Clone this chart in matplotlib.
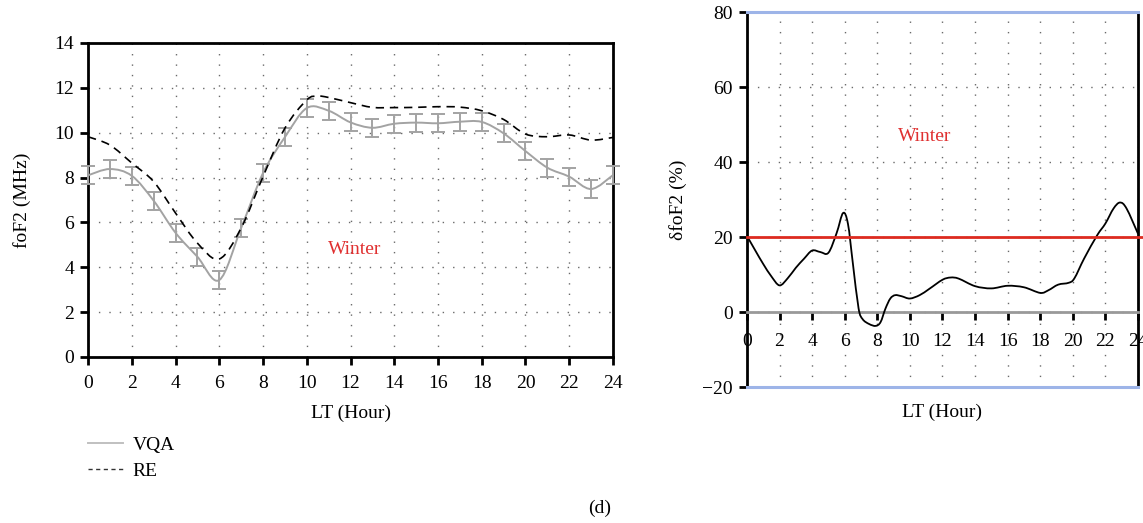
import numpy as np
import matplotlib
matplotlib.use("Agg")
import matplotlib.pyplot as plt
from matplotlib.path import Path
from matplotlib.patches import PathPatch
from matplotlib.lines import Line2D

plt.rcParams['font.family'] = ['Liberation Serif', 'DejaVu Serif']
plt.rcParams['axes.unicode_minus'] = True

# foF2 (MHz), hourly, winter
hours = list(range(25))
vqa = [8.1, 8.38, 8.08, 6.97, 5.54, 4.47, 3.43, 5.75, 8.2, 9.8, 11.1, 10.98,
       10.46, 10.22, 10.4, 10.45, 10.42, 10.49, 10.48, 9.97, 9.18, 8.44, 8.04, 7.49, 8.11]
vqa_err = [0.4] * 25
re_hours = [0, 1, 2, 3, 4, 5, 6, 7, 8, 9, 10, 10.5, 11, 12, 13, 14, 15, 16, 17,
            18, 19, 20, 21, 22, 23, 24]
re_vals = [9.82, 9.45, 8.65, 7.82, 6.42, 5.08, 4.37, 5.75, 8.04, 10.2, 11.46, 11.63, 11.57,
           11.34, 11.13, 11.12, 11.13, 11.16, 11.14, 10.98, 10.59, 9.94, 9.82, 9.9, 9.67, 9.79]

# deviation dfoF2 (%)
dev_hours = [0, 0.5, 1, 1.5, 2, 2.5, 3, 3.5, 4, 4.5, 5, 5.5, 5.9, 6.2, 6.5, 6.85, 7.1, 7.5,
             7.9, 8.2, 8.5, 8.8, 9.1, 9.5, 10, 10.6, 11.2, 12, 12.5, 13, 14, 15, 16, 17,
             18, 18.5, 19.1, 19.75, 20.1, 20.7, 21.5, 22, 22.5, 22.9, 23.3, 24]
dev_vals = [20.3, 16.5, 12.8, 9.5, 7.1, 9.0, 11.8, 14.2, 16.4, 16.0, 15.8, 21.0, 26.4, 23.5,
            13.0, 1.0, -1.9, -3.2, -3.7, -2.7, 0.9, 3.6, 4.5, 4.2, 3.6, 4.5, 6.2, 8.6, 9.2,
            8.9, 6.9, 6.3, 7.0, 6.6, 5.1, 5.8, 7.3, 7.8, 9.0, 14.3, 20.5, 23.6, 27.6, 29.2,
            27.6, 20.9]
threshold = 20


def smooth_path(xs, ys):
    # Catmull-Rom through the points, drawn as cubic Bezier segments
    p = np.column_stack([xs, ys]).astype(float)
    p = np.vstack([p[0], p, p[-1]])
    verts = [p[1]]
    codes = [Path.MOVETO]
    for i in range(1, len(p) - 2):
        c1 = p[i] + (p[i + 1] - p[i - 1]) / 6
        c2 = p[i + 1] - (p[i + 2] - p[i]) / 6
        verts += [c1, c2, p[i + 1]]
        codes += [Path.CURVE4] * 3
    return Path(verts, codes)


fig = plt.figure(figsize=(11.43, 5.23), dpi=100)
ax1 = fig.add_axes([0.077, 0.3174, 0.4593, 0.6004])
ax2 = fig.add_axes([0.6535, 0.26, 0.3421, 0.717])

grid_kw = dict(color="#6a6a6a", linestyle=(0, (1, 6.5)), linewidth=1.0)
fs = 14
gray = "#a3a3a3"

# left panel
ax1.add_patch(PathPatch(smooth_path(hours, vqa), fill=False, edgecolor=gray, lw=1.4, zorder=3))
ax1.errorbar(hours, vqa, yerr=vqa_err, fmt="none", ecolor=gray, elinewidth=1.4,
             capsize=5, capthick=1.4, zorder=3, clip_on=False)
ax1.add_patch(PathPatch(smooth_path(re_hours, re_vals), fill=False, edgecolor="black",
                        lw=1.2, linestyle=(0, (5, 3.5)), zorder=4))
ax1.set_xlim(0, 24)
ax1.set_ylim(0, 14)
ax1.set_xticks(range(0, 25, 2))
ax1.set_yticks(range(0, 15, 2))
ax1.grid(True, **grid_kw)
for s in ax1.spines.values():
    s.set_linewidth(2)
ax1.tick_params(direction="out", width=2, length=6, labelsize=fs, pad=4)
ax1.tick_params(axis="x", pad=7)
ax1.set_xlabel("LT (Hour)", fontsize=fs, labelpad=9)
ax1.set_ylabel("foF2 (MHz)", fontsize=fs, labelpad=17)
ax1.text(12.2, 4.8, "Winter", color="#e03030", fontsize=fs, ha="center", va="center")

# right panel
ax2.add_patch(PathPatch(smooth_path(dev_hours, dev_vals), fill=False, edgecolor="black",
                        lw=1.3, zorder=4))
ax2.axhline(threshold, xmin=0, xmax=1.02, color="#dd2a1f", lw=2, clip_on=False, zorder=5)
ax2.axhline(-20, color="#9db4e8", lw=2.2, clip_on=False, zorder=5)
ax2.set_xlim(0, 24)
ax2.set_ylim(-20, 80)
ax2.set_xticks(range(0, 25, 2))
ax2.set_yticks(range(-20, 81, 20))
ax2.grid(True, **grid_kw)
ax2.spines["bottom"].set_position(("data", 0))
ax2.spines["bottom"].set_color("#999999")
ax2.spines["bottom"].set_linewidth(2)
ax2.spines["top"].set_color("#9db4e8")
ax2.spines["top"].set_linewidth(2.2)
ax2.spines["left"].set_linewidth(2)
ax2.spines["right"].set_linewidth(2)
ax2.tick_params(direction="out", width=2, length=6, labelsize=fs, pad=4)
ax2.tick_params(axis="x", pad=9)
ax2.set_xlabel("LT (Hour)", fontsize=fs)
ax2.xaxis.set_label_coords(0.5, -0.045)
ax2.set_ylabel("δfoF2 (%)", fontsize=fs, labelpad=11)
ax2.text(10.9, 46.7, "Winter", color="#e03030", fontsize=fs, ha="center", va="center")

handles = [Line2D([], [], color="#c0c0c0", lw=1.4),
           Line2D([], [], color="#333333", lw=1.0, linestyle=(0, (3, 2.5)))]
fig.legend(handles, ["VQA", "RE"], loc="upper left", bbox_to_anchor=(0.07, 0.18),
           frameon=False, fontsize=fs, handlelength=1.8, handletextpad=0.5,
           labelspacing=0.4, borderaxespad=0)

fig.text(0.525, 0.028, "(d)", fontsize=fs, ha="center", va="center")

plt.savefig("out.png", dpi=100)
